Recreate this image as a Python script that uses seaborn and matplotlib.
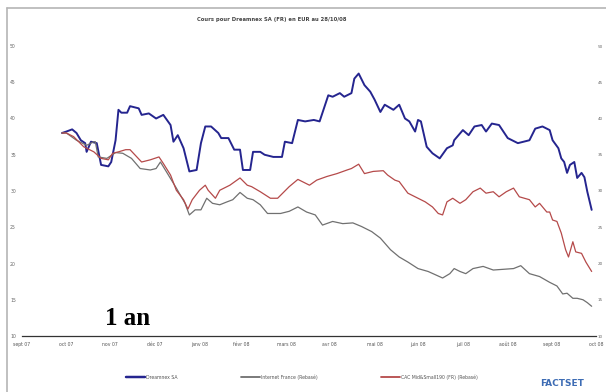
import pandas as pd
import numpy as np
import matplotlib
matplotlib.use("Agg")
import matplotlib.pyplot as plt
import matplotlib.dates as mdates
from matplotlib.lines import Line2D
import seaborn as sns

# values (days since 28/10/2007, price in EUR)
start = pd.Timestamp("2007-10-28")

dream_days = [0, 3, 7, 10, 13, 16, 17, 20, 24, 27, 32, 34, 37, 39, 41, 45, 47, 53, 55, 60,
              65, 70, 75, 77, 80, 84, 88, 93, 96, 99, 103, 108, 110, 115, 119, 123, 125, 130,
              132, 137, 140, 146, 152, 154, 159, 163, 168, 174, 178, 184, 187, 192, 195, 200,
              202, 205, 209, 213, 216, 220, 223, 229, 233, 237, 240, 244, 246, 248, 252, 256,
              261, 266, 270, 271, 277, 281, 285, 290, 293, 297, 302, 305, 308, 315, 323, 327,
              332, 337, 339, 343, 345, 347, 349, 351, 354, 356, 359, 361, 363, 366]
dream_vals = [38.0, 38.2, 38.5, 38.0, 37.0, 36.6, 35.4, 36.8, 36.6, 33.6, 33.4, 34.0, 37.0, 41.2,
              40.8, 40.8, 41.7, 41.4, 40.5, 40.7, 40.0, 40.5, 39.1, 36.8, 37.7, 35.9, 32.7, 32.9,
              36.6, 38.9, 38.9, 38.0, 37.3, 37.3, 35.7, 35.7, 32.9, 32.9, 35.4, 35.4, 35.0, 34.7,
              34.7, 36.8, 36.6, 39.8, 39.6, 39.8, 39.6, 43.2, 43.0, 43.5, 43.0, 43.5, 45.5, 46.2,
              44.6, 43.7, 42.6, 40.9, 41.9, 41.2, 41.9, 40.0, 39.6, 38.2, 39.8, 39.6, 36.1, 35.2,
              34.5, 35.9, 36.3, 37.0, 38.4, 37.7, 38.9, 39.1, 38.2, 39.3, 39.1, 38.2, 37.3, 36.6,
              37.0, 38.6, 38.9, 38.4, 37.0, 35.9, 34.5, 34.0, 32.5, 33.6, 34.0, 31.8, 32.5, 31.9,
              29.9, 27.4]

inet_days = [0, 3, 10, 17, 22, 23, 25, 31, 37, 42, 48, 54, 61, 65, 68, 72, 79, 85, 88, 92, 96,
             100, 104, 109, 114, 118, 123, 128, 132, 137, 142, 151, 157, 163, 169, 175, 180,
             187, 194, 201, 207, 214, 220, 227, 233, 239, 246, 253, 263, 268, 271, 275, 279,
             284, 291, 298, 305, 312, 317, 323, 330, 337, 342, 346, 349, 353, 356, 360, 363, 366]
inet_vals = [38.0, 38.0, 37.0, 36.3, 36.8, 36.8, 34.7, 34.5, 35.3, 35.2, 34.5, 33.1, 32.9, 33.1,
             34.0, 32.7, 30.4, 28.3, 26.7, 27.4, 27.4, 29.0, 28.3, 28.1, 28.5, 28.8, 29.8, 29.0,
             28.8, 28.1, 26.9, 26.9, 27.2, 27.8, 27.1, 26.7, 25.3, 25.8, 25.5, 25.6, 25.1, 24.4,
             23.5, 21.9, 20.9, 20.2, 19.3, 18.9, 18.0, 18.6, 19.3, 18.9, 18.6, 19.3, 19.6, 19.1,
             19.2, 19.3, 19.7, 18.6, 18.2, 17.4, 16.9, 15.8, 15.9, 15.2, 15.2, 15.0, 14.6, 14.1]

cac_days = [0, 3, 8, 15, 22, 27, 32, 35, 39, 44, 47, 55, 61, 67, 70, 75, 79, 84, 87, 90, 95,
            99, 101, 106, 109, 116, 123, 128, 131, 137, 144, 149, 157, 163, 171, 176, 183, 190,
            197, 200, 205, 209, 215, 222, 225, 230, 233, 239, 244, 251, 256, 260, 263, 266, 270,
            275, 279, 284, 289, 293, 298, 302, 307, 312, 316, 323, 327, 330, 335, 337, 339, 342,
            345, 348, 350, 353, 355, 359, 362, 366]
cac_vals = [38.0, 38.0, 37.5, 36.1, 35.4, 34.5, 34.3, 35.2, 35.4, 35.7, 35.7, 34.0, 34.3, 34.7,
            33.8, 32.2, 30.1, 28.8, 27.5, 28.8, 30.1, 30.8, 30.1, 29.0, 30.1, 30.8, 31.8, 30.8,
            30.6, 29.9, 29.0, 29.0, 30.6, 31.6, 30.8, 31.5, 32.0, 32.4, 32.9, 33.1, 33.7, 32.4,
            32.7, 32.8, 32.2, 31.5, 31.3, 29.7, 29.2, 28.5, 27.8, 26.9, 26.7, 28.5, 29.0, 28.3,
            28.8, 29.9, 30.4, 29.7, 29.9, 29.2, 29.9, 30.4, 29.2, 28.8, 27.8, 28.3, 27.1, 27.1,
            26.0, 25.8, 24.2, 21.9, 20.9, 23.0, 21.6, 21.4, 20.2, 18.9]

series_names = ["Dreamnex SA", "Internet France (Rebasé)", "CAC Mid&Small190 (FR) (Rebasé)"]
series_colors = ["#25258f", "#707070", "#b54a4a"]
series_widths = [1.4, 0.9, 0.9]

month_labels = ["sept 07", "oct 07", "nov 07", "déc 07", "janv 08", "févr 08", "mars 08",
                "avr 08", "mai 08", "juin 08", "juil 08", "août 08", "sept 08", "oct 08"]
y_ticks = [10, 15, 20, 25, 30, 35, 40, 45, 50]


def main():
    sns.set_style("white")
    plt.rcParams["font.family"] = ["DejaVu Sans"]

    fig = plt.figure(figsize=(6.06, 3.92), dpi=100)
    ax = fig.add_axes([21.5 / 606, 1 - 336 / 392, (596 - 21.5) / 606, 290 / 392])

    data = [(dream_days, dream_vals), (inet_days, inet_vals), (cac_days, cac_vals)]
    handles = []
    for (days, vals), name, col, lw in zip(data, series_names, series_colors, series_widths):
        df = pd.DataFrame({"date": start + pd.to_timedelta(days, unit="D"), "val": vals})
        sns.lineplot(data=df, x="date", y="val", ax=ax, color=col, lw=lw)
        handles.append(Line2D([], [], color=col, lw=lw + 0.4))

    tick_dates = pd.date_range("2007-09-30", "2008-10-31", freq="ME")
    ax.set_xlim(tick_dates[0], tick_dates[-1])
    ax.set_xticks(tick_dates)
    ax.set_xticklabels(month_labels, fontsize=3.3, color="#555555")
    ax.set_ylim(10, 50)
    ax.set_yticks(y_ticks)
    ax.set_yticklabels([str(v) for v in y_ticks], fontsize=3.3, color="#666666")
    ax.set_xlabel("")
    ax.set_ylabel("")
    for s in ["top", "right", "left"]:
        ax.spines[s].set_visible(False)
    ax.spines["bottom"].set_color("#333333")
    ax.spines["bottom"].set_linewidth(0.9)
    ax.tick_params(axis="x", direction="inout", length=3, width=0.6, color="#333333", pad=3)
    ax.tick_params(axis="y", length=0, pad=4)

    # right-hand copy of the price scale, squeezed against the edge
    ax2 = ax.twinx()
    ax2.set_ylim(10, 50)
    ax2.set_yticks(y_ticks)
    ax2.set_yticklabels([str(v) for v in y_ticks], fontsize=3.0, color="#666666")
    ax2.tick_params(axis="y", length=0, pad=1.2)
    for s in ax2.spines.values():
        s.set_visible(False)

    fig.text(272 / 606, 1 - 20 / 392, "Cours pour Dreamnex SA (FR) en EUR au 28/10/08",
             ha="center", va="center", fontsize=3.8, fontweight="bold", color="#444444")

    fig.text(128 / 606, 1 - 325 / 392, "1 an", ha="center", va="baseline",
             fontsize=18, fontweight="bold", family="Liberation Serif", color="black")

    fig.legend(handles, series_names, loc="center", bbox_to_anchor=(302 / 606, 1 - 377 / 392),
               ncol=3, frameon=False, fontsize=3.3, handlelength=4, columnspacing=14,
               handletextpad=0.2, labelcolor="#555555")

    fig.text(562 / 606, 1 - 384 / 392, "FACTSET", ha="center", va="center",
             fontsize=6.5, fontweight="bold", color="#3d6cb4")

    # frame lines of the original export
    fig.add_artist(Line2D([7 / 606, 1], [1 - 8 / 392, 1 - 8 / 392], color="#b5b5b5", lw=1.2))
    fig.add_artist(Line2D([7 / 606, 7 / 606], [0, 1 - 8 / 392], color="#b5b5b5", lw=1.2))

    fig.savefig("out.png", dpi=100)


if __name__ == "__main__":
    main()
